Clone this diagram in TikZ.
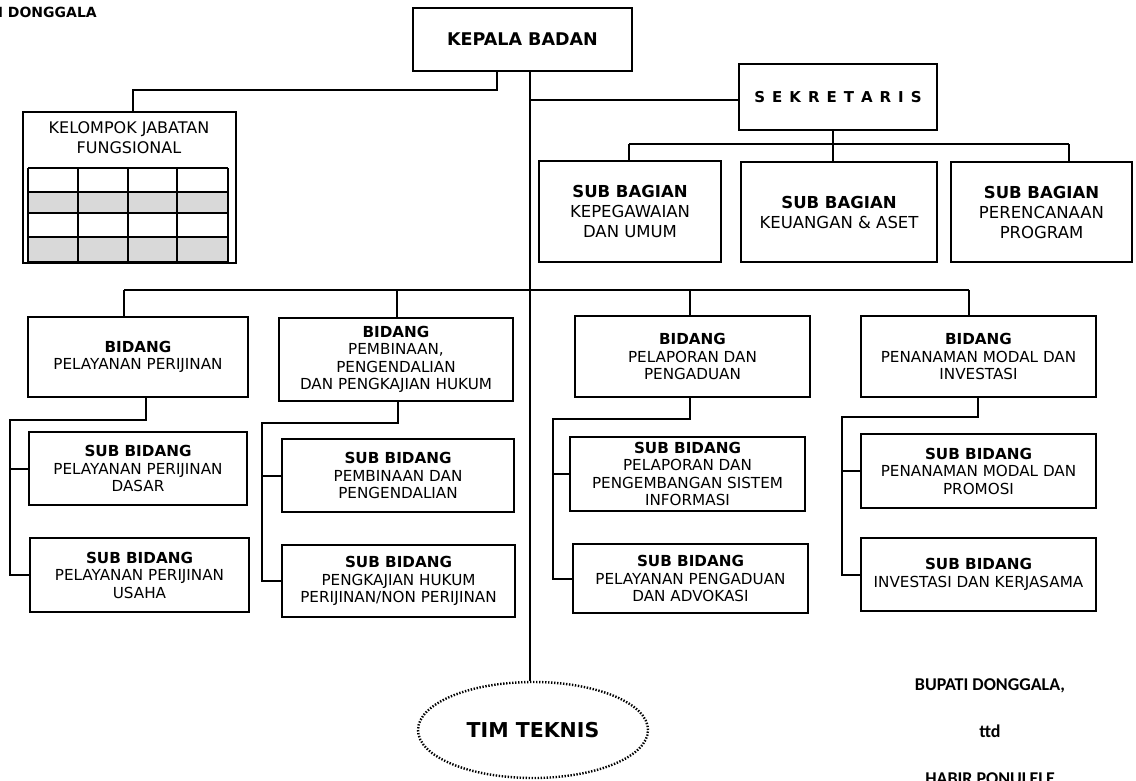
\documentclass[tikz,border=0pt]{standalone}
\usepackage{fontspec}
\setmainfont{DejaVu Sans}
\newfontfamily\carl{Carlito}
\usetikzlibrary{shapes.geometric}
\newcommand{\skgap}{\hspace{7pt}}
\begin{document}
\begin{tikzpicture}[x=1pt,y=-1pt,
  lw/.style={line width=2pt},
  conn/.style={lw},
  box/.style={draw, lw, align=center, inner sep=0pt, font=\fontsize{15.2}{17.5}\selectfont},
  bagbox/.style={box, font=\fontsize{16.5}{20}\selectfont},
  sig/.style={inner sep=0pt, font=\carl\bfseries\fontsize{18}{22}\selectfont}]
\useasboundingbox (0,0) rectangle (1136,780);

% header (cut off at the left edge, as in the scan)
\node[font=\bfseries\fontsize{14}{16}\selectfont, anchor=base east, inner sep=0pt] (hdr) at (97,17) {PEMERINTAH KABUPATEN DONGGALA};

% top
\node[box, minimum width=219pt, minimum height=63pt, font=\bfseries\fontsize{17.5}{20}\selectfont] (kepala) at (522.5,39.5) {KEPALA BADAN};
\node[box, minimum width=198pt, minimum height=66pt, font=\bfseries\fontsize{15}{18}\selectfont] (sek) at (838,97)
  {S\skgap E\skgap K\skgap R\skgap E\skgap T\skgap A\skgap R\skgap I\skgap S};

% kelompok jabatan fungsional
\fill[gray!30] (28,192) rectangle (228,213);
\fill[gray!30] (28,237) rectangle (228,262);
\foreach \yy in {168,192,213,237,262} \draw[lw] (28,\yy) -- (228,\yy);
\foreach \xx in {28,78,128,177,228} \draw[lw] (\xx,168) -- (\xx,262);
\node[draw, lw, minimum width=213pt, minimum height=151pt, inner sep=0pt] (kel) at (129.5,187.5) {};
\node[font=\fontsize{16}{20}\selectfont, align=center, inner sep=0pt] (kelt) at (129,138) {KELOMPOK JABATAN\\FUNGSIONAL};

% sub bagian
\node[bagbox, minimum width=182pt, minimum height=101pt] (sb1) at (630,211.5) {\textbf{SUB BAGIAN}\\KEPEGAWAIAN\\DAN UMUM};
\node[bagbox, minimum width=196pt, minimum height=100pt] (sb2) at (839,212) {\textbf{SUB BAGIAN}\\KEUANGAN \& ASET};
\node[bagbox, minimum width=181pt, minimum height=100pt] (sb3) at (1041.5,212) {\textbf{SUB BAGIAN}\\PERENCANAAN\\PROGRAM};

% bidang
\node[box, minimum width=220pt, minimum height=80pt] (b1) at (138,357) {\textbf{BIDANG}\\PELAYANAN PERIJINAN};
\node[box, minimum width=234pt, minimum height=83pt] (b2) at (396,359.5) {\textbf{BIDANG}\\PEMBINAAN,\\PENGENDALIAN\\DAN PENGKAJIAN HUKUM};
\node[box, minimum width=235pt, minimum height=81pt] (b3) at (692.5,356.5) {\textbf{BIDANG}\\PELAPORAN DAN\\PENGADUAN};
\node[box, minimum width=235pt, minimum height=81pt] (b4) at (978.5,356.5) {\textbf{BIDANG}\\PENANAMAN MODAL DAN\\INVESTASI};

% sub bidang
\node[box, minimum width=218pt, minimum height=73pt] (s11) at (138,468.5) {\textbf{SUB BIDANG}\\PELAYANAN PERIJINAN\\DASAR};
\node[box, minimum width=219pt, minimum height=74pt] (s12) at (139.5,575) {\textbf{SUB BIDANG}\\PELAYANAN PERIJINAN\\USAHA};
\node[box, minimum width=232pt, minimum height=73pt] (s21) at (398,475.5) {\textbf{SUB BIDANG}\\PEMBINAAN DAN\\PENGENDALIAN};
\node[box, minimum width=233pt, minimum height=72pt] (s22) at (398.5,581) {\textbf{SUB BIDANG}\\PENGKAJIAN HUKUM\\PERIJINAN/NON PERIJINAN};
\node[box, minimum width=235pt, minimum height=74pt, font=\fontsize{15.2}{17.2}\selectfont] (s31) at (687.5,474) {\textbf{SUB BIDANG}\\PELAPORAN DAN\\PENGEMBANGAN SISTEM\\INFORMASI};
\node[box, minimum width=235pt, minimum height=69pt] (s32) at (690.5,578.5) {\textbf{SUB BIDANG}\\PELAYANAN PENGADUAN\\DAN ADVOKASI};
\node[box, minimum width=235pt, minimum height=74pt] (s41) at (978.5,471) {\textbf{SUB BIDANG}\\PENANAMAN MODAL DAN\\PROMOSI};
\node[box, minimum width=235pt, minimum height=73pt] (s42) at (978.5,574.5) {\textbf{SUB BIDANG}\\INVESTASI DAN KERJASAMA};

% tim teknis
\node[ellipse, draw, line width=2.4pt, dash pattern=on 1.4pt off 1.6pt, minimum width=230pt, minimum height=96pt, inner sep=0pt,
  font=\bfseries\fontsize{20.5}{24}\selectfont] (tim) at (533,730) {TIM TEKNIS};

% signature
\node[sig] (bup) at (990,686) {BUPATI DONGGALA,};
\node[sig] (ttd) at (990,731) {ttd};
\node[sig, anchor=north] (hab) at (990,772) {HABIR PONULELE};

% connectors
\coordinate (mv) at (530,0);
\coordinate (jk1) at (497,90);
\coordinate (jk2) at (133,90);
\draw[conn] (kepala.south -| jk1) -- (jk1) -- (jk2) -- (kel.north -| jk2);
\draw[conn] (kepala.south -| mv) -- (tim.north -| mv);

\coordinate (sw) at ([yshift=-3pt]sek.west);
\draw[conn] (mv |- sw) -- (sw);
\coordinate (sj) at (833,144);
\coordinate (h1) at (629,144);
\coordinate (h3) at (1069,144);
\draw[conn] (sek.south -| sj) -- (sj);
\draw[conn] (h1) -- (h3);
\draw[conn] (h1) -- (sb1.north -| h1);
\draw[conn] (sj) -- (sb2.north -| sj);
\draw[conn] (h3) -- (sb3.north -| h3);

\coordinate (bL) at (124,290);
\coordinate (bR) at (969,290);
\coordinate (b2j) at (397,290);
\coordinate (b3j) at (690,290);
\draw[conn] (bL) -- (bR);
\draw[conn] (bL) -- (b1.north -| bL);
\draw[conn] (b2j) -- (b2.north -| b2j);
\draw[conn] (b3j) -- (b3.north -| b3j);
\draw[conn] (bR) -- (b4.north -| bR);

\coordinate (c1a) at (146,420); \coordinate (c1b) at (10,420);
\draw[conn] (b1.south -| c1a) -- (c1a) -- (c1b) |- (s12.west);
\draw[conn] (c1b |- s11.west) -- (s11.west);
\coordinate (c2a) at (398,423); \coordinate (c2b) at (262,423);
\draw[conn] (b2.south -| c2a) -- (c2a) -- (c2b) |- (s22.west);
\draw[conn] (c2b |- s21.west) -- (s21.west);
\coordinate (c3a) at (690,419); \coordinate (c3b) at (553,419);
\draw[conn] (b3.south -| c3a) -- (c3a) -- (c3b) |- (s32.west);
\draw[conn] (c3b |- s31.west) -- (s31.west);
\coordinate (c4a) at (978,417); \coordinate (c4b) at (842,417);
\draw[conn] (b4.south -| c4a) -- (c4a) -- (c4b) |- (s42.west);
\draw[conn] (c4b |- s41.west) -- (s41.west);
\end{tikzpicture}
\end{document}
